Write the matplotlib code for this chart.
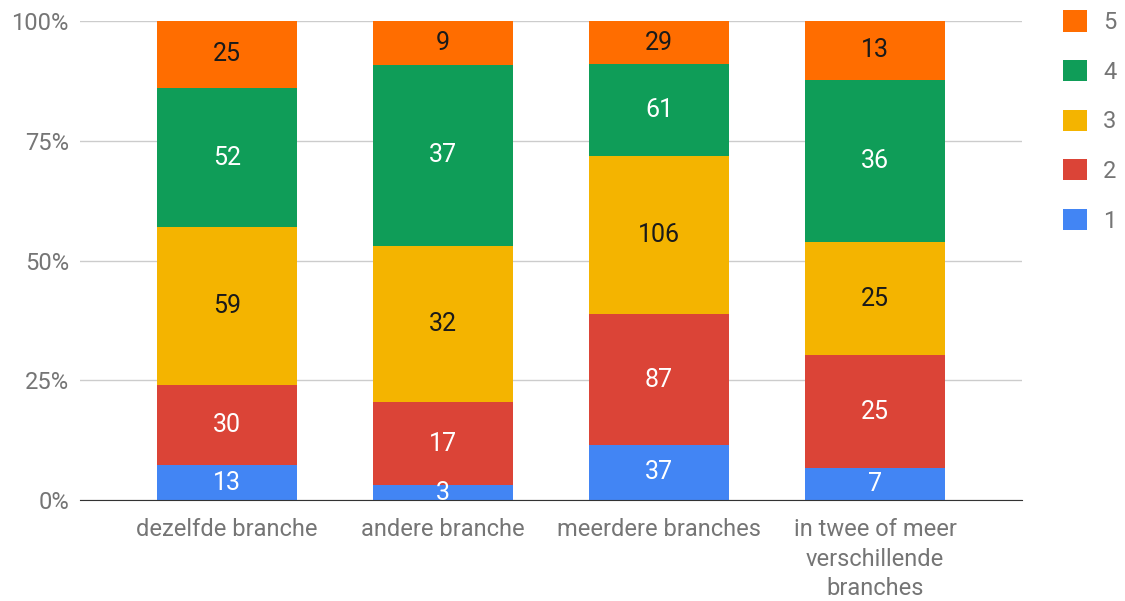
import numpy as np
import matplotlib.pyplot as plt
from matplotlib.patches import Patch

plt.rcParams['font.family'] = ['Roboto', 'DejaVu Sans']

## Data ##
categories = ['dezelfde branche', 'andere branche', 'meerdere branches',
              'in twee of meer\nverschillende\nbranches']
series_names = ['1', '2', '3', '4', '5']
counts = {
    '1': [13, 3, 37, 7],
    '2': [30, 17, 87, 25],
    '3': [59, 32, 106, 25],
    '4': [52, 37, 61, 36],
    '5': [25, 9, 29, 13],
}
colors = {'1': '#4285F4', '2': '#DB4437', '3': '#F4B400', '4': '#0F9D58', '5': '#FF6D00'}
label_colors = {'1': 'white', '2': 'white', '3': '#1a1a1a', '4': 'white', '5': '#1a1a1a'}

totals = np.sum([counts[s] for s in series_names], axis=0)

fig = plt.figure(figsize=(11.25, 6.01), dpi=100)
ax = fig.add_axes([0.0711, 0.168, 0.8373, 0.797])

x = np.arange(len(categories))
bottom = np.zeros(len(categories))
for s in series_names:
    vals = np.array(counts[s])
    share = vals / totals * 100
    ax.bar(x, share, bottom=bottom, width=0.647, color=colors[s], zorder=3)
    for xi, b, h, v in zip(x, bottom, share, vals):
        ax.text(xi, b + h / 2, str(v), ha='center', va='center',
                fontsize=18, color=label_colors[s], zorder=4)
    bottom += share

ax.set_xlim(-0.68, 3.68)
ax.set_ylim(0, 100)
ax.set_yticks([0, 25, 50, 75, 100])
ax.set_yticklabels(['0%', '25%', '50%', '75%', '100%'])
ax.set_xticks(x)
ax.set_xticklabels(categories, linespacing=1.36)
ax.tick_params(axis='both', length=0, labelsize=17, colors='#757575')
ax.tick_params(axis='y', pad=8)
ax.tick_params(axis='x', pad=13)
ax.grid(axis='y', color='#cccccc', linewidth=1, zorder=0)
for sp in ['top', 'right', 'left']:
    ax.spines[sp].set_visible(False)
ax.spines['bottom'].set_color('#333333')
ax.spines['bottom'].set_zorder(5)

## Legend ##
handles = [Patch(facecolor=colors[s], label=s) for s in reversed(series_names)]
fig.legend(handles=handles, loc='upper left', bbox_to_anchor=(0.926, 1.018),
           frameon=False, fontsize=17, labelcolor='#757575',
           handlelength=1.0, handleheight=1.0, labelspacing=1.1, handletextpad=0.7)

plt.savefig('out.png', dpi=100)
